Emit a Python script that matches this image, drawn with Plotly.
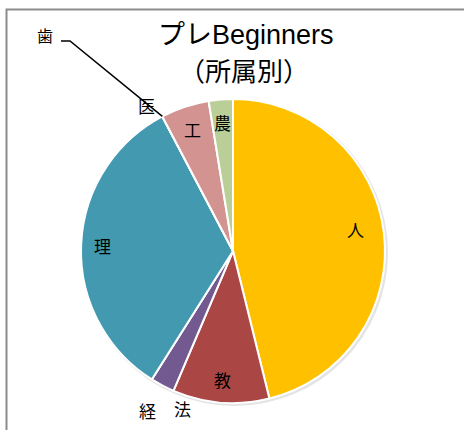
import math
import plotly.graph_objects as go

# data: faculty counts (clockwise from 12 o'clock)
faculties = ["人", "教", "法", "経", "理", "医", "歯", "工", "農"]
counts = [18, 4, 1, 0, 13, 0, 0, 2, 1]
colors = ["#FFC000", "#AA4744", "#72598F", "#4F81BD", "#4299B0",
          "#C0504D", "#9BBB59", "#D39391", "#BACF98"]
title_line1 = "プレBeginners"
title_line2 = "（所属別）"

W, H = 464, 430
CX, CY, R = 233, 251, 152   # pie centre / radius in pixels
LATIN = "Liberation Sans, Noto Sans CJK JP, sans-serif"
CJK = "Noto Sans CJK JP, sans-serif"

fig = go.Figure(go.Pie(
    labels=faculties,
    values=counts,
    sort=False,
    direction="clockwise",
    rotation=0,
    textinfo="none",
    hoverinfo="label+value",
    marker=dict(colors=colors, line=dict(color="white", width=2)),
    domain=dict(x=[(CX - R) / W, (CX + R) / W],
                y=[(H - CY - R) / H, (H - CY + R) / H]),
    showlegend=False,
))

# slice angles from the data
total = sum(counts)
start, mids, ends = 0.0, [], []
for v in counts:
    a = 360.0 * v / total
    mids.append(start + a / 2)
    ends.append(start + a)
    start += a


def to_paper(angle, r):
    t = math.radians(angle)
    return (CX + r * math.sin(t)) / W, (H - CY + r * math.cos(t)) / H


def label(x, y, text, size, family):
    fig.add_annotation(x=x, y=y, xref="paper", yref="paper", text=text,
                       xanchor="center", yanchor="middle", showarrow=False,
                       font=dict(size=size, color="black", family=family))


# label placement: (radius factor, angle shift) per faculty
placement = {"人": (0.82, -3), "教": (0.85, 0), "理": (0.86, 0), "工": (0.84, 0),
             "農": (0.85, 0), "法": (1.09, -10), "経": (1.19, -4), "医": (1.11, -3)}
for name, mid in zip(faculties, mids):
    if name not in placement:
        continue
    rf, shift = placement[name]
    x, y = to_paper(mid + shift, R * rf)
    label(x, y, name, 17, CJK)

# 歯 with leader line to the pie edge
ex, ey = to_paper(ends[faculties.index("歯")], R)
label(45 / W, (H - 35) / H, "歯", 16, CJK)
fig.add_shape(type="path", xref="paper", yref="paper",
              path=f"M {61 / W} {(H - 41) / H} L {70 / W} {(H - 41) / H} L {ex} {ey}",
              line=dict(color="black", width=1.5))

# soft shadow behind the pie
fig.add_shape(type="circle", xref="paper", yref="paper", layer="below",
              x0=(CX - R) / W, x1=(CX + R + 3) / W,
              y0=(H - CY - R - 3) / H, y1=(H - CY + R) / H,
              fillcolor="#E4E4E4", line=dict(width=0))

# chart frame
fig.add_shape(type="rect", xref="paper", yref="paper",
              x0=6.5 / W, y0=-0.1, x1=1.1, y1=(H - 9.5) / H,
              line=dict(color="#8C8C8C", width=2), layer="below")

# title
label(246 / W, (H - 35) / H, title_line1, 27, LATIN)
label(244 / W, (H - 69) / H, title_line2, 26, CJK)

fig.update_layout(
    width=W, height=H,
    margin=dict(l=0, r=0, t=0, b=0),
    paper_bgcolor="white",
    plot_bgcolor="white",
)

fig.write_html("out.html", config={"displayModeBar": False},
               post_script="document.body.style.margin='0';")
